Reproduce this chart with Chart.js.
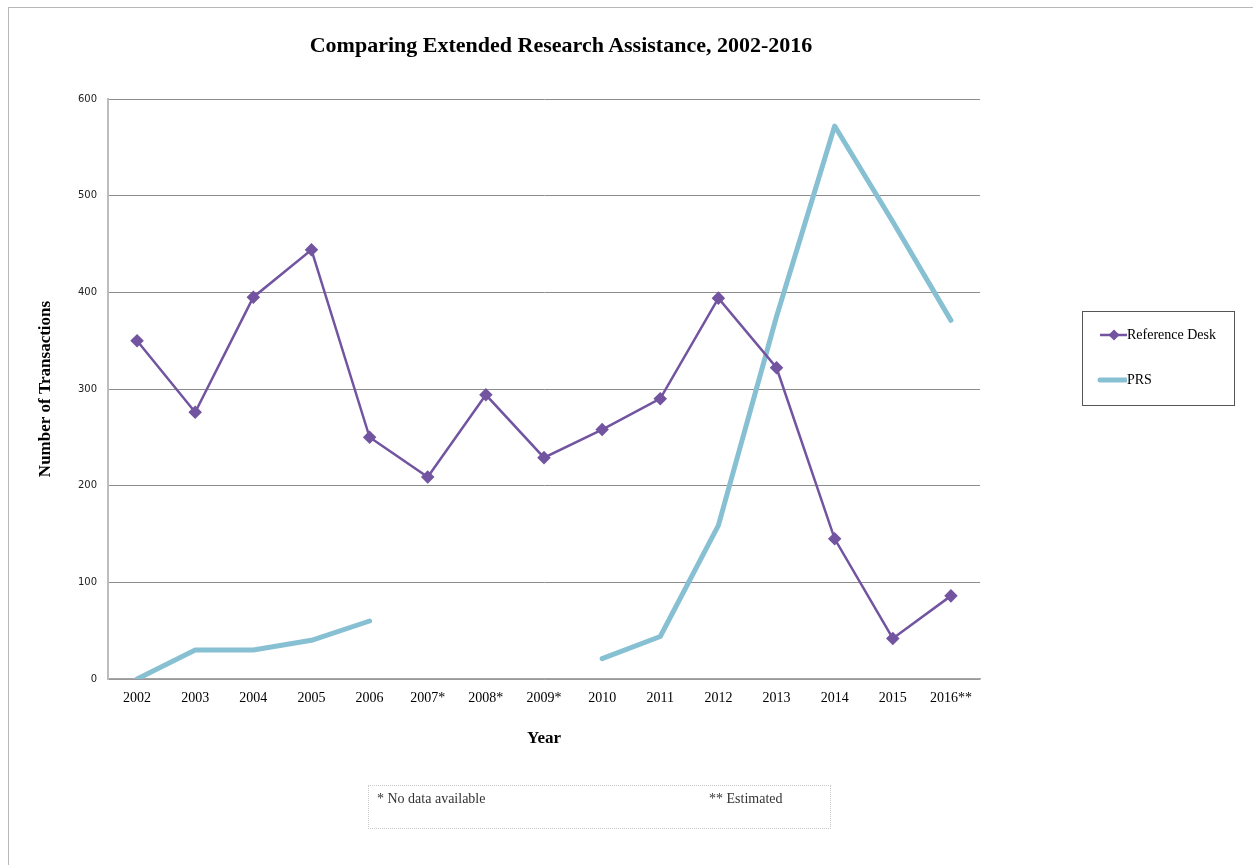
<!DOCTYPE html>
<html>
<head>
<meta charset="utf-8">
<script src="https://cdn.jsdelivr.net/npm/chart.js@4.4.1/dist/chart.umd.min.js"></script>
<style>
  html, body { margin:0; padding:0; background:#fff; }
  #wrap { position:relative; width:1253px; height:865px; overflow:hidden; }
  #frame { position:absolute; left:8px; top:7px; width:1260px; height:870px; border-left:1px solid #b8b8b8; border-top:1px solid #b8b8b8; }
  #c { position:absolute; left:0; top:0; }
  #title { position:absolute; left:0; width:1122px; top:32px; text-align:center; font:bold 22px "Liberation Serif", serif; color:#000; }
  #legend { position:absolute; left:1082px; top:311px; width:151px; height:93px; border:1px solid #555; font:14px "Liberation Serif", serif; color:#000; }
  .li { position:absolute; left:14px; height:20px; display:flex; align-items:center; }
  #note { position:absolute; left:368px; top:785px; width:461px; height:42px; border:1px dotted #c8c8c8; font:14px "Liberation Serif", serif; color:#333; }
</style>
</head>
<body>
<div id="wrap">
  <div id="frame"></div>
  <canvas id="c" width="1253" height="865"></canvas>
  <div id="title">Comparing Extended Research Assistance, 2002-2016</div>
  <div id="legend">
    <div class="li" style="top:13px;">
      <svg width="30" height="14"><line x1="3" y1="7" x2="30" y2="7" stroke="#7254a0" stroke-width="2.5"/><polygon points="17,1.5 22.5,7 17,12.5 11.5,7" fill="#7254a0"/></svg><span>Reference Desk</span>
    </div>
    <div class="li" style="top:58px;">
      <svg width="30" height="12"><line x1="3" y1="6" x2="29" y2="6" stroke="#88c0d3" stroke-width="5" stroke-linecap="round"/></svg><span>PRS</span>
    </div>
  </div>
  <div id="note">
    <span style="position:absolute;left:8px;top:5px;">* No data available</span>
    <span style="position:absolute;left:340px;top:5px;">** Estimated</span>
  </div>
</div>
<script>
const categories = ["2002","2003","2004","2005","2006","2007*","2008*","2009*","2010","2011","2012","2013","2014","2015","2016**"];
const referenceDesk = [350, 276, 395, 444, 250, 209, 294, 229, 258, 290, 394, 322, 145, 42, 86];
const prs = [0, 30, 30, 40, 60, null, null, null, 21, 44, 159, 375, 572, 473, 371];
const yTicks = [0, 100, 200, 300, 400, 500, 600];

new Chart(document.getElementById('c'), {
  type: 'line',
  data: {
    labels: categories,
    datasets: [
      {
        label: 'Reference Desk',
        data: referenceDesk,
        borderColor: '#7254a0',
        backgroundColor: '#7254a0',
        borderWidth: 2.5,
        pointStyle: 'rectRot',
        pointRadius: 5,
        pointHoverRadius: 5,
        tension: 0,
        order: 1
      },
      {
        label: 'PRS',
        data: prs,
        borderColor: '#88c0d3',
        backgroundColor: '#88c0d3',
        borderWidth: 5,
        borderCapStyle: 'round',
        borderJoinStyle: 'round',
        pointRadius: 0,
        pointHoverRadius: 0,
        spanGaps: false,
        tension: 0,
        order: 2
      }
    ]
  },
  options: {
    responsive: false,
    animation: false,
    layout: { padding: { left: 30, right: 273, top: 99, bottom: 100 } },
    plugins: { legend: { display: false }, title: { display: false }, tooltip: { enabled: false } },
    scales: {
      x: {
        offset: true,
        grid: { display: false, drawTicks: false },
        border: { color: '#a6a6a6', width: 1.5 },
        ticks: { color: '#000', font: { family: 'Liberation Serif', size: 14 }, padding: 11, maxRotation: 0, autoSkip: false },
        title: { display: true, text: 'Year', color: '#000', font: { family: 'Liberation Serif', size: 17, weight: 'bold' }, padding: { top: 8, bottom: 16 } },
        afterFit: (s) => { s.height = 86; }
      },
      y: {
        min: 0, max: 600,
        afterBuildTicks: (s) => { s.ticks = yTicks.map(v => ({ value: v })); },
        grid: { color: '#8c8c8c', lineWidth: 1, drawTicks: false },
        border: { color: '#bdbdbd', width: 2 },
        ticks: { color: '#222', font: { family: 'DejaVu Sans', size: 10 }, padding: 11 },
        title: { display: true, text: 'Number of Transactions', color: '#000', font: { family: 'Liberation Serif', size: 17, weight: 'bold' }, padding: { top: 5, bottom: 0 } },
        afterFit: (s) => { s.width = 78; }
      }
    }
  }
});
</script>
</body>
</html>
